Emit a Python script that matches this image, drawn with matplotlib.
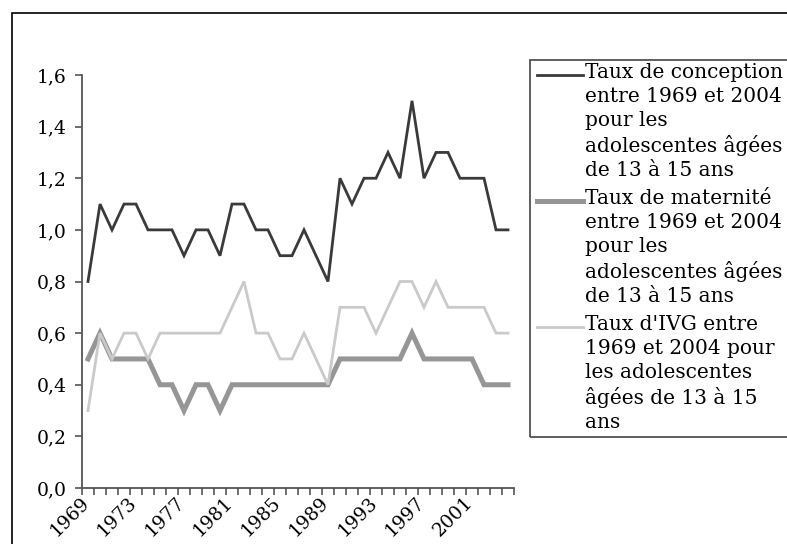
import matplotlib
matplotlib.use("Agg")
import matplotlib.pyplot as plt
import matplotlib.transforms as mtransforms
import numpy as np
from matplotlib.lines import Line2D
from matplotlib.patches import Rectangle

# values (1969 -> 2004)
years = list(range(1969, 2005))
conception = [0.8, 1.1, 1.0, 1.1, 1.1, 1.0, 1.0, 1.0, 0.9, 1.0, 1.0, 0.9,
              1.1, 1.1, 1.0, 1.0, 0.9, 0.9, 1.0, 0.9, 0.8, 1.2, 1.1, 1.2,
              1.2, 1.3, 1.2, 1.5, 1.2, 1.3, 1.3, 1.2, 1.2, 1.2, 1.0, 1.0]
maternite = [0.5, 0.6, 0.5, 0.5, 0.5, 0.5, 0.4, 0.4, 0.3, 0.4, 0.4, 0.3,
             0.4, 0.4, 0.4, 0.4, 0.4, 0.4, 0.4, 0.4, 0.4, 0.5, 0.5, 0.5,
             0.5, 0.5, 0.5, 0.6, 0.5, 0.5, 0.5, 0.5, 0.5, 0.4, 0.4, 0.4]
ivg = [0.3, 0.6, 0.5, 0.6, 0.6, 0.5, 0.6, 0.6, 0.6, 0.6, 0.6, 0.6,
       0.7, 0.8, 0.6, 0.6, 0.5, 0.5, 0.6, 0.5, 0.4, 0.7, 0.7, 0.7,
       0.6, 0.7, 0.8, 0.8, 0.7, 0.8, 0.7, 0.7, 0.7, 0.7, 0.6, 0.6]
labels = ["Taux de conception\nentre 1969 et 2004\npour les\nadolescentes âgées\nde 13 à 15 ans",
          "Taux de maternité\nentre 1969 et 2004\npour les\nadolescentes âgées\nde 13 à 15 ans",
          "Taux d'IVG entre\n1969 et 2004 pour\nles adolescentes\nâgées de 13 à 15\nans"]
colors = ["#3a3a3a", "#969696", "#cacaca"]
widths = [2.0, 3.6, 2.0]
yticks = [0.0, 0.2, 0.4, 0.6, 0.8, 1.0, 1.2, 1.4, 1.6]
xlabel_years = list(range(1969, 2004, 4))

plt.rcParams['font.family'] = ['DejaVu Serif']

W, H = 787, 544
fig = plt.figure(figsize=(W / 100, H / 100), dpi=100)
ax = fig.add_axes([82 / W, 1 - 488 / H, (514 - 82) / W, (488 - 75) / H])

series = [conception, maternite, ivg]
for vals, c, lw in zip(series, colors, widths):
    ax.plot(years, vals, color=c, lw=lw, solid_joinstyle='miter')

ax.set_xlim(years[0] - 0.5, years[-1] + 0.5)
ax.set_ylim(0, 1.6)
ax.set_yticks(yticks)
ax.set_yticklabels([f"{v:.1f}".replace('.', ',') for v in yticks], fontsize=13.5)

# tick marks between categories, labels on categories
ax.set_xticks(np.arange(years[0] - 0.5, years[-1] + 1, 1))
ax.set_xticklabels([])
ax.set_xticks(xlabel_years, minor=True)
ax.set_xticklabels([str(y) for y in xlabel_years], minor=True, rotation=45,
                   ha='right', rotation_mode='anchor', fontsize=13.5)
ax.tick_params(axis='x', which='minor', length=0, pad=4)
ax.tick_params(axis='both', which='major', length=5, color='#555555', width=1.2)
ax.tick_params(axis='y', pad=6)
shift = mtransforms.ScaledTranslation(-8 / 100, 0, fig.dpi_scale_trans)
for t in ax.get_xticklabels(minor=True):
    t.set_transform(t.get_transform() + shift)

for s in ['top', 'right']:
    ax.spines[s].set_visible(False)
for s in ['left', 'bottom']:
    ax.spines[s].set_color('#555555')
    ax.spines[s].set_linewidth(1.3)

# outer chart border (runs off the right and bottom edges)
fig.patches.append(Rectangle((12 / W, -0.1), 1.2, 1.1 - 13 / H, transform=fig.transFigure,
                             fill=False, edgecolor='black', lw=1.2))

# legend box
fig.patches.append(Rectangle((530 / W, 1 - 437 / H), 0.5, (437 - 60) / H,
                             transform=fig.transFigure, fill=False,
                             edgecolor='#444444', lw=1.2))
entry_rows = [75, 201, 327]
for lab, c, lw, yr in zip(labels, colors, widths, entry_rows):
    fig.add_artist(Line2D([537 / W, 583 / W], [1 - yr / H, 1 - yr / H],
                          transform=fig.transFigure, color=c, lw=lw))
    fig.text(585 / W, 1 - (yr - 12) / H, lab, fontsize=14.5, va='top', ha='left',
             linespacing=1.32, transform=fig.transFigure)

fig.savefig("out.png", dpi=100)
